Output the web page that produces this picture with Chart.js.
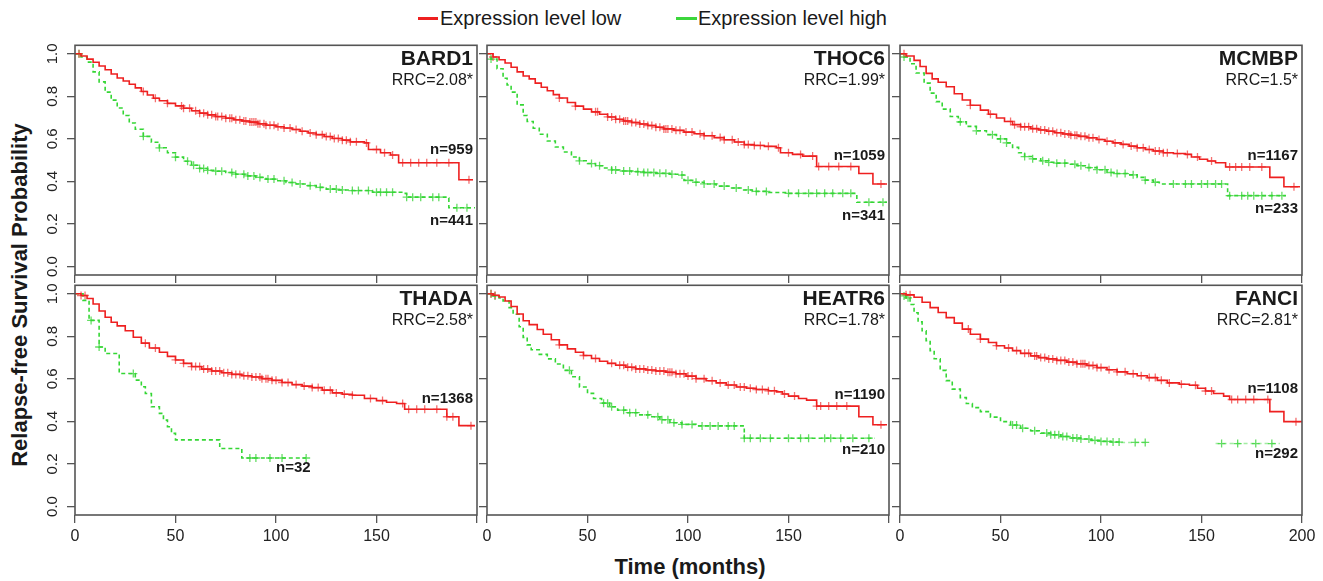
<!DOCTYPE html>
<html>
<head>
<meta charset="utf-8">
<script src="https://cdn.jsdelivr.net/npm/chart.js@4.4.1/dist/chart.umd.min.js"></script>
<style>
  body { margin: 0; width: 1323px; height: 581px; background: #fff; position: relative; overflow: hidden;
         font-family: "Liberation Sans", Arial, sans-serif; color: #1a1a1a; }
  canvas { position: absolute; }
  .swatch { position: absolute; height: 3px; }
  .legtext { position: absolute; font-size: 20px; line-height: 24px; white-space: nowrap; }
  #ytitle { position: absolute; left: -180px; top: 282px; width: 400px; height: 26px; line-height: 26px;
            text-align: center; font-weight: bold; font-size: 22px; transform: rotate(-90deg); }
  #xtitle { position: absolute; left: 540px; top: 554px; width: 300px; line-height: 26px;
            text-align: center; font-weight: bold; font-size: 22px; }
</style>
</head>
<body>
<div class="swatch" style="left:418px; top:17px; width:20px; background:rgb(238,32,32);"></div>
<div class="legtext" style="left:440px; top:6px;">Expression level low</div>
<div class="swatch" style="left:676px; top:17px; width:21px; background:rgb(60,214,60);"></div>
<div class="legtext" style="left:698px; top:6px;">Expression level high</div>
<div id="ytitle">Relapse-free Survival Probability</div>
<div id="xtitle">Time (months)</div>
<canvas id="c0"></canvas><canvas id="c1"></canvas><canvas id="c2"></canvas>
<canvas id="c3"></canvas><canvas id="c4"></canvas><canvas id="c5"></canvas>
<script>
// axis ticks
const xTicks = [0, 50, 100, 150, 200];
const yTicks = [0, 0.2, 0.4, 0.6, 0.8, 1.0];

// panel labels
const genes = ["BARD1", "THOC6", "MCMBP", "THADA", "HEATR6", "FANCI"];
const rrcs = ["RRC=2.08*", "RRC=1.99*", "RRC=1.5*", "RRC=2.58*", "RRC=1.78*", "RRC=2.81*"];
const nLow = [959, 1059, 1167, 1368, 1190, 1108];
const nHigh = [441, 341, 233, 32, 210, 292];

// BARD1
const bard1LowT = [0, 3, 6, 9, 12, 15, 18, 21, 24, 27, 30, 33, 36, 39, 42, 46, 50, 54, 58, 62, 66, 70, 75, 79, 83, 87, 91, 95, 100, 104, 108, 112, 116, 120, 124, 128, 133, 137, 144, 146, 152, 157, 161, 191, 198];
const bard1LowS = [1, 0.99, 0.975, 0.96, 0.943, 0.925, 0.905, 0.886, 0.872, 0.857, 0.84, 0.823, 0.806, 0.791, 0.779, 0.767, 0.755, 0.744, 0.732, 0.721, 0.713, 0.705, 0.697, 0.69, 0.684, 0.679, 0.671, 0.664, 0.657, 0.651, 0.644, 0.636, 0.628, 0.62, 0.611, 0.602, 0.594, 0.586, 0.581, 0.55, 0.535, 0.524, 0.488, 0.408, 0.408];
const bard1HighT = [0, 3, 6, 9, 12, 15, 18, 21, 24, 27, 30, 34, 38, 42, 46, 50, 54, 58, 62, 66, 70, 75, 80, 85, 90, 95, 100, 105, 110, 115, 120, 125, 131, 137, 148, 163, 165, 185, 186, 199];
const bard1HighS = [1, 0.985, 0.961, 0.915, 0.868, 0.82, 0.782, 0.745, 0.71, 0.675, 0.645, 0.612, 0.584, 0.558, 0.535, 0.514, 0.495, 0.476, 0.461, 0.452, 0.448, 0.442, 0.434, 0.426, 0.419, 0.411, 0.403, 0.395, 0.388, 0.38, 0.372, 0.364, 0.36, 0.357, 0.349, 0.344, 0.326, 0.322, 0.276, 0.276];
const bard1LowCens = [2, 34, 40, 46, 53, 54, 57, 60, 62, 64, 66, 68, 70, 71, 73, 75, 77, 78, 80, 82, 84, 85, 87, 88, 89, 90, 91, 92, 94, 95, 97, 99, 101, 104, 107, 110, 113, 117, 120, 123, 125, 127, 129, 131, 133, 135, 137, 140, 145, 150, 154, 158, 163, 167, 171, 175, 180, 186, 196];
const bard1HighCens = [2, 34, 42, 50, 56, 59, 62, 64, 66, 70, 73, 78, 80, 84, 86, 89, 92, 96, 99, 104, 108, 112, 117, 122, 127, 130, 133, 138, 141, 146, 150, 152, 155, 158, 165, 168, 172, 178, 181, 190, 195];

// THOC6
const thoc6LowT = [0, 3, 6, 9, 12, 15, 18, 21, 24, 27, 30, 33, 36, 40, 44, 48, 52, 56, 60, 64, 68, 72, 76, 80, 84, 88, 93, 98, 103, 108, 113, 118, 123, 128, 133, 138, 144, 146, 152, 157, 164, 185, 192, 199];
const thoc6LowS = [1, 0.985, 0.972, 0.957, 0.937, 0.915, 0.896, 0.882, 0.862, 0.843, 0.826, 0.808, 0.792, 0.771, 0.754, 0.74, 0.727, 0.716, 0.703, 0.692, 0.684, 0.677, 0.67, 0.663, 0.655, 0.647, 0.64, 0.632, 0.624, 0.615, 0.606, 0.596, 0.585, 0.573, 0.569, 0.565, 0.558, 0.535, 0.527, 0.519, 0.47, 0.437, 0.388, 0.388];
const thoc6HighT = [0, 2, 5, 8, 10, 12, 15, 18, 20, 23, 26, 30, 34, 38, 42, 46, 50, 54, 58, 62, 66, 72, 78, 84, 91, 96, 98, 103, 108, 114, 121, 127, 132, 140, 149, 183, 184, 199];
const thoc6HighS = [1, 0.975, 0.93, 0.885, 0.853, 0.82, 0.76, 0.71, 0.682, 0.65, 0.622, 0.59, 0.562, 0.538, 0.515, 0.497, 0.484, 0.474, 0.463, 0.454, 0.449, 0.446, 0.442, 0.438, 0.434, 0.43, 0.405, 0.396, 0.388, 0.378, 0.369, 0.36, 0.353, 0.348, 0.344, 0.344, 0.302, 0.302];
const thoc6LowCens = [3, 36, 44, 54, 55, 60, 62, 64, 66, 68, 69, 70, 72, 74, 76, 78, 80, 82, 84, 86, 88, 89, 90, 92, 94, 96, 99, 102, 106, 108, 112, 116, 118, 122, 125, 128, 130, 133, 136, 140, 145, 150, 156, 162, 165, 170, 175, 181, 196];
const thoc6HighCens = [2, 46, 52, 56, 62, 64, 68, 71, 75, 78, 80, 83, 86, 89, 92, 97, 100, 104, 108, 113, 118, 124, 130, 134, 139, 150, 155, 160, 164, 168, 172, 177, 181, 190, 197];

// MCMBP
const mcmbpLowT = [0, 3, 7, 10, 13, 16, 19, 23, 27, 31, 35, 40, 44, 48, 52, 56, 60, 65, 69, 73, 77, 81, 85, 89, 93, 98, 102, 106, 110, 114, 118, 122, 126, 131, 136, 142, 145, 149, 153, 157, 162, 184, 191, 199];
const mcmbpLowS = [1, 0.99, 0.969, 0.94, 0.908, 0.882, 0.866, 0.845, 0.812, 0.783, 0.758, 0.735, 0.716, 0.698, 0.682, 0.667, 0.657, 0.648, 0.642, 0.636, 0.629, 0.623, 0.617, 0.612, 0.605, 0.597, 0.589, 0.581, 0.574, 0.566, 0.558, 0.55, 0.543, 0.535, 0.531, 0.527, 0.515, 0.504, 0.496, 0.488, 0.468, 0.419, 0.375, 0.375];
const mcmbpHighT = [0, 2, 5, 8, 12, 15, 18, 21, 25, 29, 33, 38, 43, 48, 53, 56, 59, 62, 66, 70, 74, 78, 83, 88, 93, 98, 103, 108, 113, 118, 122, 126, 129, 162, 163, 192];
const mcmbpHighS = [1, 0.985, 0.953, 0.91, 0.862, 0.815, 0.775, 0.74, 0.705, 0.68, 0.659, 0.638, 0.62, 0.6, 0.581, 0.56, 0.535, 0.517, 0.506, 0.497, 0.49, 0.486, 0.481, 0.474, 0.465, 0.455, 0.442, 0.437, 0.431, 0.419, 0.406, 0.396, 0.388, 0.388, 0.333, 0.333];
const mcmbpLowCens = [2, 35, 45, 55, 57, 60, 62, 64, 66, 68, 70, 72, 74, 76, 78, 80, 82, 84, 85, 87, 88, 90, 92, 94, 96, 99, 103, 107, 111, 115, 118, 121, 124, 127, 129, 131, 133, 138, 143, 148, 155, 164, 167, 170, 174, 180, 196];
const mcmbpHighCens = [2, 30, 38, 46, 50, 53, 62, 66, 71, 74, 78, 82, 87, 90, 94, 98, 102, 105, 108, 112, 116, 122, 127, 136, 142, 145, 150, 153, 157, 160, 164, 170, 173, 176, 180, 185, 190];

// THADA
const thadaLowT = [0, 3, 6, 9, 12, 15, 18, 21, 25, 29, 33, 37, 42, 46, 50, 54, 58, 63, 68, 73, 78, 83, 88, 93, 98, 103, 108, 113, 118, 123, 128, 133, 138, 144, 150, 155, 160, 164, 185, 191, 199];
const thadaLowS = [1, 0.992, 0.978, 0.952, 0.919, 0.89, 0.866, 0.849, 0.826, 0.796, 0.768, 0.745, 0.725, 0.706, 0.689, 0.673, 0.658, 0.646, 0.637, 0.629, 0.621, 0.615, 0.609, 0.601, 0.593, 0.583, 0.573, 0.566, 0.559, 0.547, 0.534, 0.528, 0.523, 0.508, 0.498, 0.49, 0.484, 0.457, 0.422, 0.38, 0.38];
const thadaHighT = [0, 4, 7, 12, 15, 22, 30, 33, 35, 38, 42, 44, 46, 48, 50, 72, 83, 115];
const thadaHighS = [1, 0.969, 0.875, 0.75, 0.719, 0.625, 0.594, 0.563, 0.531, 0.469, 0.438, 0.406, 0.375, 0.344, 0.313, 0.273, 0.228, 0.228];
const thadaLowCens = [3, 5, 35, 40, 50, 54, 58, 60, 62, 64, 66, 68, 70, 72, 74, 76, 78, 80, 82, 84, 86, 88, 90, 92, 93, 95, 96, 98, 100, 103, 106, 110, 114, 118, 121, 124, 127, 130, 134, 138, 147, 153, 163, 166, 170, 174, 180, 185, 188, 197];
const thadaHighCens = [8, 12, 29, 87, 90, 97, 103, 115];

// HEATR6
const heatr6LowT = [0, 3, 6, 9, 12, 15, 18, 21, 25, 28, 32, 36, 40, 44, 48, 52, 56, 60, 64, 69, 74, 79, 84, 89, 94, 99, 104, 109, 114, 119, 124, 129, 134, 140, 144, 147, 150, 155, 159, 164, 185, 192, 199];
const heatr6LowS = [1, 0.993, 0.985, 0.966, 0.94, 0.905, 0.873, 0.855, 0.832, 0.81, 0.784, 0.76, 0.741, 0.725, 0.71, 0.696, 0.683, 0.673, 0.664, 0.655, 0.647, 0.642, 0.637, 0.631, 0.624, 0.613, 0.601, 0.591, 0.581, 0.571, 0.562, 0.556, 0.55, 0.544, 0.539, 0.529, 0.519, 0.508, 0.5, 0.472, 0.422, 0.384, 0.384];
const heatr6HighT = [0, 3, 6, 8, 11, 13, 16, 18, 20, 22, 26, 30, 34, 38, 42, 46, 50, 53, 57, 61, 65, 69, 75, 81, 86, 91, 97, 104, 127, 128, 193];
const heatr6HighS = [1, 0.99, 0.98, 0.966, 0.935, 0.904, 0.845, 0.795, 0.76, 0.737, 0.715, 0.694, 0.67, 0.64, 0.61, 0.562, 0.532, 0.508, 0.486, 0.469, 0.453, 0.441, 0.431, 0.422, 0.408, 0.394, 0.386, 0.379, 0.379, 0.321, 0.321];
const heatr6LowCens = [2, 4, 36, 48, 54, 62, 66, 68, 70, 72, 74, 76, 78, 80, 82, 84, 86, 88, 90, 91, 92, 94, 96, 98, 100, 102, 104, 108, 112, 116, 120, 123, 126, 128, 131, 134, 137, 140, 143, 148, 153, 164, 166, 170, 174, 179, 196];
const heatr6HighCens = [2, 4, 41, 58, 60, 62, 68, 71, 74, 80, 85, 87, 90, 93, 97, 102, 107, 111, 115, 120, 123, 128, 131, 136, 141, 150, 156, 160, 168, 171, 176, 182, 190];

// FANCI
const fanciLowT = [0, 3, 7, 11, 15, 19, 23, 27, 31, 35, 40, 44, 48, 52, 56, 60, 65, 69, 73, 78, 83, 88, 93, 98, 103, 108, 113, 118, 123, 128, 133, 139, 144, 148, 152, 156, 161, 164, 184, 191, 200];
const fanciLowS = [1, 0.995, 0.984, 0.96, 0.935, 0.912, 0.888, 0.862, 0.834, 0.81, 0.787, 0.771, 0.756, 0.745, 0.733, 0.72, 0.708, 0.7, 0.694, 0.687, 0.679, 0.671, 0.663, 0.653, 0.643, 0.633, 0.624, 0.615, 0.606, 0.593, 0.581, 0.575, 0.57, 0.556, 0.543, 0.531, 0.519, 0.503, 0.446, 0.399, 0.399];
const fanciHighT = [0, 2, 3, 5, 7, 9, 11, 13, 15, 17, 20, 23, 26, 30, 33, 36, 40, 45, 50, 55, 60, 65, 70, 75, 80, 85, 90, 95, 100, 105, 110, 123, 140, 157, 189];
const fanciHighS = [1, 0.99, 0.981, 0.95, 0.911, 0.868, 0.826, 0.78, 0.733, 0.695, 0.64, 0.592, 0.552, 0.512, 0.484, 0.465, 0.446, 0.42, 0.399, 0.383, 0.368, 0.356, 0.345, 0.337, 0.329, 0.322, 0.317, 0.311, 0.306, 0.303, 0.301, 0.301, null, 0.296, 0.296];
const fanciLowCens = [3, 5, 34, 40, 48, 54, 58, 62, 64, 67, 68, 70, 72, 74, 76, 78, 80, 82, 84, 86, 88, 90, 91, 92, 94, 96, 98, 100, 104, 108, 112, 116, 120, 124, 127, 130, 134, 140, 147, 152, 155, 165, 168, 172, 176, 183, 197];
const fanciHighCens = [2, 4, 56, 58, 61, 67, 73, 75, 77, 79, 81, 83, 86, 88, 90, 94, 97, 100, 103, 106, 109, 117, 122, 160, 168, 177, 185];

const panels = [
  { lowT: bard1LowT, lowS: bard1LowS, highT: bard1HighT, highS: bard1HighS, lowC: bard1LowCens, highC: bard1HighCens },
  { lowT: thoc6LowT, lowS: thoc6LowS, highT: thoc6HighT, highS: thoc6HighS, lowC: thoc6LowCens, highC: thoc6HighCens },
  { lowT: mcmbpLowT, lowS: mcmbpLowS, highT: mcmbpHighT, highS: mcmbpHighS, lowC: mcmbpLowCens, highC: mcmbpHighCens },
  { lowT: thadaLowT, lowS: thadaLowS, highT: thadaHighT, highS: thadaHighS, lowC: thadaLowCens, highC: thadaHighCens },
  { lowT: heatr6LowT, lowS: heatr6LowS, highT: heatr6HighT, highS: heatr6HighS, lowC: heatr6LowCens, highC: heatr6HighCens },
  { lowT: fanciLowT, lowS: fanciLowS, highT: fanciHighT, highS: fanciHighS, lowC: fanciLowCens, highC: fanciHighCens }
];

// layout (pixels) and label placement (in axis units)
const boxes = [[75, 43], [487, 43], [900, 43], [75, 283], [487, 283], [900, 283]];
const nPos = [[0.55, 0.214], [0.519, 0.236], [0.519, 0.271], [0.508, 0.182], [0.526, 0.267], [0.554, 0.247]];
const fadeFrom = [null, null, null, 86, null, 108];
const ML = 40, MB = 40, MT = 3, MR = 18, BW = 402, BH = 232;

const FONT = '"Liberation Sans", Arial, sans-serif';
const RED = "rgb(238,32,32)";
const GREEN = "rgb(52,214,52)";
const GREEN_FAINT = "rgba(52,214,52,0.45)";
const RED_CENS = "rgba(240,50,50,0.7)";
const GREEN_CENS = "rgba(50,210,50,0.75)";
const AXIS = "#555";

function toPoints(ts, ss) {
  return ts.map((t, k) => ({ x: t, y: ss[k] }));
}

function survAt(ts, ss, t) {
  let v = ss[0];
  for (let k = 0; k < ts.length; k++) {
    if (ts[k] <= t && ss[k] !== null) v = ss[k];
  }
  return v;
}

function censorPoints(ts, ss, cens) {
  return cens.map((t) => ({ x: t, y: survAt(ts, ss, t) }));
}

const boxPlugin = {
  id: "box",
  afterDraw(chart) {
    const { ctx, chartArea: a } = chart;
    ctx.save();
    ctx.strokeStyle = AXIS;
    ctx.lineWidth = 1.6;
    ctx.strokeRect(a.left, a.top, a.right - a.left, a.bottom - a.top);
    ctx.restore();
  }
};

function labelPlugin(i) {
  return {
    id: "labels" + i,
    afterDraw(chart) {
      const { ctx, chartArea: a, scales } = chart;
      ctx.save();
      ctx.fillStyle = "#1a1a1a";
      ctx.textAlign = "right";
      ctx.textBaseline = "middle";
      ctx.font = "bold 21px " + FONT;
      ctx.fillText(genes[i], a.right - 4, a.top + 14);
      ctx.font = "16px " + FONT;
      ctx.fillText(rrcs[i], a.right - 4, a.top + 35);
      ctx.font = "bold 15px " + FONT;
      ctx.fillText("n=" + nLow[i], a.right - 4, scales.y.getPixelForValue(nPos[i][0]));
      if (i === 3) {
        ctx.textAlign = "left";
        ctx.fillText("n=" + nHigh[i], scales.x.getPixelForValue(100), scales.y.getPixelForValue(nPos[i][1]));
      } else {
        ctx.fillText("n=" + nHigh[i], a.right - 4, scales.y.getPixelForValue(nPos[i][1]));
      }
      ctx.restore();
    }
  };
}

function makeChart(i) {
  const p = panels[i];
  const [bx, by] = boxes[i];
  const cv = document.getElementById("c" + i);
  cv.width = BW + ML + MR;
  cv.height = BH + MT + MB;
  cv.style.left = bx - ML + "px";
  cv.style.top = by - MT + "px";
  const leftCol = i % 3 === 0;
  const bottomRow = i >= 3;
  const grid = { drawOnChartArea: false, drawTicks: true, tickLength: 8, color: AXIS, lineWidth: 1.3 };

  new Chart(cv, {
    type: "line",
    data: {
      datasets: [
        {
          data: toPoints(p.lowT, p.lowS),
          borderColor: RED, borderWidth: 1.6, stepped: "before", pointRadius: 0, fill: false
        },
        {
          data: toPoints(p.highT, p.highS),
          borderColor: GREEN, borderWidth: 1.6, borderDash: [4, 3], stepped: "before", pointRadius: 0, fill: false,
          segment: {
            borderColor: (c) => (fadeFrom[i] !== null && c.p0.parsed.x >= fadeFrom[i] ? GREEN_FAINT : undefined)
          }
        },
        {
          data: censorPoints(p.lowT, p.lowS, p.lowC),
          showLine: false, pointStyle: "cross", pointRadius: 4, borderColor: RED_CENS, borderWidth: 1.3
        },
        {
          data: censorPoints(p.highT, p.highS, p.highC),
          showLine: false, pointStyle: "cross", pointRadius: 4, borderColor: GREEN_CENS, borderWidth: 1.3
        }
      ]
    },
    options: {
      responsive: false,
      animation: false,
      events: [],
      layout: { padding: { top: MT, right: MR, left: 0, bottom: 0 } },
      plugins: { legend: { display: false }, tooltip: { enabled: false } },
      scales: {
        x: {
          type: "linear", min: 0, max: 200,
          afterBuildTicks: (s) => { s.ticks = xTicks.map((v) => ({ value: v })); },
          afterFit: (s) => { s.height = MB; s.paddingLeft = 0; s.paddingRight = 0; },
          grid: grid,
          border: { display: false },
          ticks: {
            display: bottomRow, padding: 4, maxRotation: 0, autoSkip: false,
            font: { size: 16, family: FONT }, color: "#222",
            callback: (v) => (v === 200 && i !== 5 ? "" : String(v))
          }
        },
        y: {
          type: "linear", min: -0.04, max: 1.04,
          afterBuildTicks: (s) => { s.ticks = yTicks.map((v) => ({ value: v })); },
          afterFit: (s) => { s.width = ML; s.paddingTop = 0; s.paddingBottom = 0; },
          grid: grid,
          border: { display: false },
          ticks: {
            display: leftCol, padding: 4, minRotation: 90, maxRotation: 90, crossAlign: "center", autoSkip: false,
            font: { size: 15, family: FONT }, color: "#222",
            callback: (v) => Number(v).toFixed(1)
          }
        }
      }
    },
    plugins: [boxPlugin, labelPlugin(i)]
  });
}

for (let i = 0; i < 6; i++) makeChart(i);
</script>
</body>
</html>
